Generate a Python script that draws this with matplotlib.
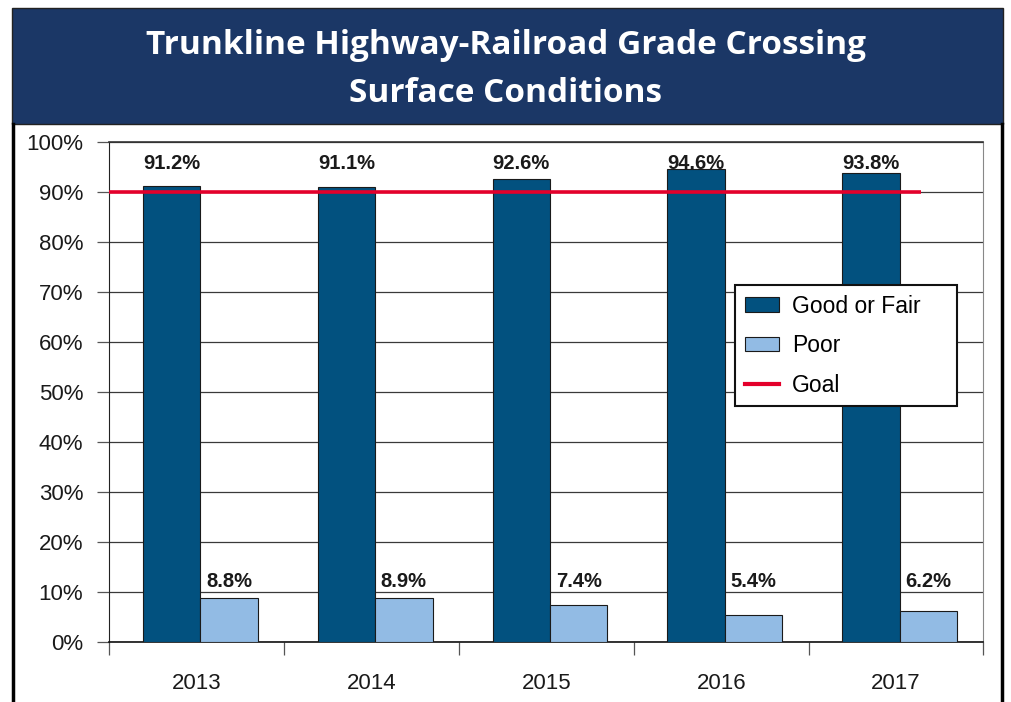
"""Trunkline highway-railroad grade crossing surface conditions, 2013-2017."""

import matplotlib
matplotlib.use("Agg")
import matplotlib.pyplot as plt
import matplotlib.patches as mpatches
from matplotlib.lines import Line2D
import numpy as np

plt.rcParams["font.family"] = ["Liberation Sans", "DejaVu Sans"]

# -------- data --------
years = ["2013", "2014", "2015", "2016", "2017"]
good_or_fair = [91.2, 91.1, 92.6, 94.6, 93.8]
poor = [8.8, 8.9, 7.4, 5.4, 6.2]
goal = 90
y_ticks = [0, 10, 20, 30, 40, 50, 60, 70, 80, 90, 100]

DARK = "#02517F"
LIGHT = "#92BBE4"
RED = "#E4002B"
NAVY = "#1B3766"


def main():
    fig = plt.figure(figsize=(10.12, 7.02), dpi=100)

    # -------- banner + page border --------
    fig.patches.append(mpatches.Rectangle(
        (12 / 1012, 1 - 124 / 702), 991 / 1012, 116 / 702,
        transform=fig.transFigure, facecolor=NAVY, edgecolor="#222222",
        linewidth=1.0, zorder=0))
    for xb in (13.5 / 1012, 1002.5 / 1012):
        fig.add_artist(Line2D([xb, xb], [0, 1 - 124 / 702],
                              transform=fig.transFigure, color="black",
                              linewidth=2.5))
    fig.text(0.5, 1 - 45 / 702, "Trunkline Highway-Railroad Grade Crossing",
             ha="center", va="center", color="white", fontsize=24,
             fontweight="bold", family=["Open Sans", "DejaVu Sans"])
    fig.text(0.5, 1 - 93 / 702, "Surface Conditions",
             ha="center", va="center", color="white", fontsize=24,
             fontweight="bold", family=["Open Sans", "DejaVu Sans"])

    # -------- axes --------
    ax = fig.add_axes([109.5 / 1012, 1 - 642.3 / 702,
                       874 / 1012, 500 / 702])
    x = np.arange(len(years))
    w = 0.328
    b1 = ax.bar(x - w / 2 + 0.02, good_or_fair, w, color=DARK,
                edgecolor="#1a1a1a", linewidth=0.8, zorder=3)
    b2 = ax.bar(x + w / 2 + 0.02, poor, w, color=LIGHT,
                edgecolor="#1a1a1a", linewidth=0.8, zorder=3)
    ax.hlines(goal, -0.5, 4.14, color=RED, linewidth=2.6, zorder=4)

    for xi, v in zip(x, good_or_fair):
        ax.text(xi - w / 2 + 0.02, 95.7, f"{v:.1f}%", ha="center",
                va="center", fontsize=14.5, fontweight="bold",
                color="#1a1a1a")
    for xi, v in zip(x, poor):
        ax.text(xi + w / 2 + 0.02, 12.1, f"{v:.1f}%", ha="center",
                va="center", fontsize=14.5, fontweight="bold",
                color="#1a1a1a")

    ax.set_xlim(-0.5, len(years) - 0.5)
    ax.set_ylim(0, 100)
    ax.set_yticks(y_ticks)
    ax.set_yticklabels([f"{t}%" for t in y_ticks], fontsize=16)
    ax.yaxis.grid(True, color="#3a3a3a", linewidth=0.9, zorder=0)
    ax.set_axisbelow(True)
    ax.tick_params(axis="y", length=9, width=0.9, color="#555555", pad=10,
                   labelcolor="#1a1a1a")

    ax.set_xticks(x)
    ax.set_xticklabels(years, fontsize=16, color="#1a1a1a")
    ax.set_xticks(np.arange(-0.5, len(years)), minor=True)
    ax.tick_params(axis="x", which="major", length=0, pad=22)
    ax.tick_params(axis="x", which="minor", length=9, width=0.9,
                   color="#555555")

    ax.spines["left"].set_color("#222222")
    ax.spines["bottom"].set_color("#111111")
    ax.spines["bottom"].set_linewidth(1.2)
    ax.spines["top"].set_color("#333333")
    ax.spines["top"].set_linewidth(1.2)
    ax.spines["right"].set_color("#888888")

    goal_handle = Line2D([], [], color=RED, linewidth=3)
    leg = ax.legend([b1, b2, goal_handle], ["Good or Fair", "Poor", "Goal"],
                    loc="upper left", bbox_to_anchor=(0.7157, 0.0, 0.254, 0.7146),
                    mode="expand", borderaxespad=0, fontsize=16.5,
                    frameon=True, fancybox=False, edgecolor="#111111",
                    framealpha=1, handlelength=1.5, handleheight=0.6,
                    labelspacing=0.72, borderpad=0.42, handletextpad=0.55)
    leg.get_frame().set_linewidth(1.5)
    leg.set_zorder(6)

    fig.savefig("out.png", dpi=100)
    plt.close(fig)


if __name__ == "__main__":
    main()
